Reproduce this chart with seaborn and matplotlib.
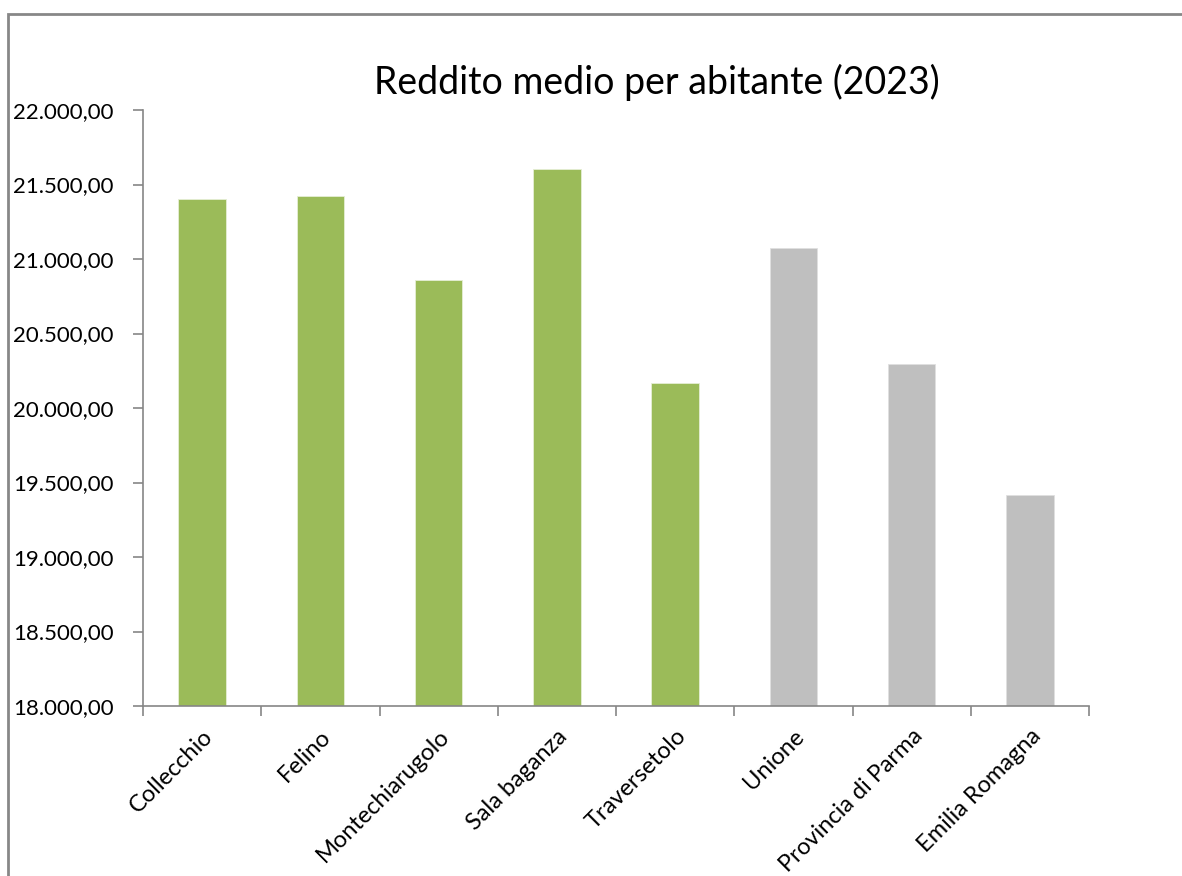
import matplotlib
matplotlib.use("Agg")
import matplotlib.pyplot as plt
import seaborn as sns
import pandas as pd
import numpy as np
from matplotlib.patches import Rectangle
from matplotlib.ticker import FuncFormatter, FixedLocator

categories = ["Collecchio", "Felino", "Montechiarugolo", "Sala baganza",
              "Traversetolo", "Unione", "Provincia di Parma", "Emilia Romagna"]
values = [21400, 21425, 20860, 21605, 20170, 21075, 20295, 19415]
groups = ["Comune", "Comune", "Comune", "Comune", "Comune",
          "Aggregato", "Aggregato", "Aggregato"]
y_ticks = [18000, 18500, 19000, 19500, 20000, 20500, 21000, 21500, 22000]
title = "Reddito medio per abitante (2023)"

sns.set_theme(style="white")
plt.rcParams['font.family'] = ['Lato', 'DejaVu Sans']

df = pd.DataFrame({"cat": categories, "val": values, "grp": groups})

fig = plt.figure(figsize=(11.82, 8.76), dpi=100)
ax = fig.add_axes([143/1182, 1 - 706/876, (1089-143)/1182, (706-110)/876])

sns.barplot(data=df, x="cat", y="val", hue="grp", dodge=False, width=0.4,
            palette={"Comune": "#9BBB59", "Aggregato": "#BFBFBF"}, saturation=1,
            edgecolor="#E6EED5", linewidth=0.6, legend=False, ax=ax)
for p in ax.patches:
    if p.get_facecolor()[0] > 0.7:
        p.set_edgecolor("#E0E0E0")

ax.set_ylim(18000, 22000)
ax.set_xlim(-0.5, len(categories) - 0.5)
ax.yaxis.set_major_locator(FixedLocator(y_ticks))

def fmt(v, pos):
    s = f"{v:,.2f}"
    return s.replace(",", "X").replace(".", ",").replace("X", ".")
ax.yaxis.set_major_formatter(FuncFormatter(fmt))

ax.set_xlabel("")
ax.set_ylabel("")
ax.set_title("")

for side in ["top", "right"]:
    ax.spines[side].set_visible(False)
for side in ["left", "bottom"]:
    ax.spines[side].set_color("#868686")
    ax.spines[side].set_linewidth(1.2)

ax.tick_params(axis="y", which="major", direction="out", length=7, width=1.2,
               color="#868686", labelsize=16, labelcolor="black", pad=14, left=True)
ax.xaxis.set_minor_locator(FixedLocator(np.arange(-0.5, len(categories), 1.0)))
ax.tick_params(axis="x", which="minor", direction="out", length=7, width=1.2,
               color="#868686", bottom=True)
ax.tick_params(axis="x", which="major", length=0, labelsize=17, labelcolor="black", pad=14)
plt.setp(ax.get_xticklabels(), rotation=45, ha="right", rotation_mode="anchor")

fig.text(657/1182, 1 - 82/876, title, ha="center", va="center", fontsize=27, color="black")

fig.patches.append(Rectangle((8/1182, -0.05), 1.2, 1 - 14/876 + 0.05,
                             transform=fig.transFigure, fill=False,
                             edgecolor="#878787", linewidth=2))

fig.savefig("out.png", dpi=100)
